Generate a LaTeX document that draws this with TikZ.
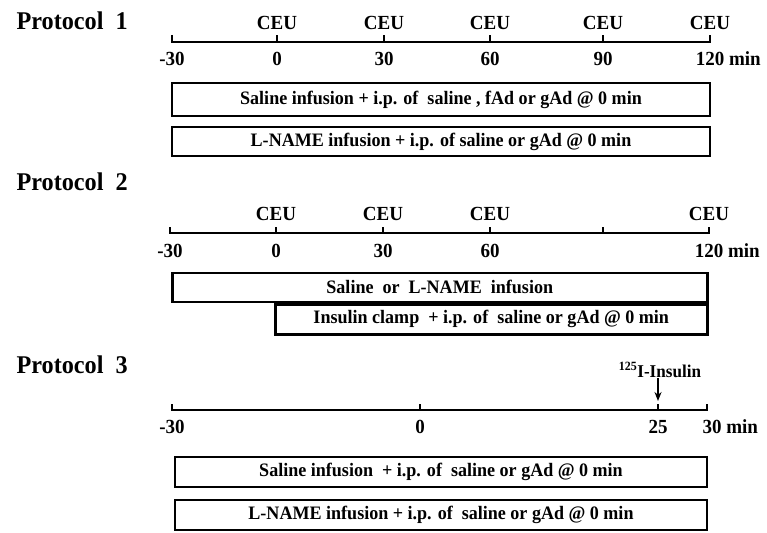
\documentclass[tikz,border=0pt]{standalone}
\usepackage{fontspec}
\setmainfont{Liberation Serif}
\newfontfamily\condfont[FakeStretch=0.95]{Liberation Serif}
\usetikzlibrary{arrows.meta,positioning}

\begin{document}
\begin{tikzpicture}[x=1pt,y=-1pt,
  axis/.style={line width=2pt,line join=miter},
  bar/.style={draw,line width=2.5pt,inner sep=0pt,font=\condfont\fontsize{19}{19}\selectfont\bfseries},
  lab/.style={anchor=base,font=\condfont\fontsize{20}{20}\selectfont\bfseries},
  ttl/.style={anchor=base west,font=\condfont\fontsize{25.5}{25.5}\selectfont\bfseries}]
\useasboundingbox (0,0) rectangle (767,532);
%% protocol 1
\node[ttl] (prA) at (13,30) {Protocol\ \ 1};
\draw[axis](172,35)--(172,42)--(710,42)--(710,35);
\foreach \x/\t [count=\i] in {172/-30,277/0,384/30,490/60,603/90}{
  \draw[axis](\x,42)--(\x,35);
  \node[lab] (tA\i) at (\x,66) {\t};}
\node[lab] (tA6) at (710,66) {120\rlap{ min}};
\foreach \x [count=\i] in {277,384,490,603,710}
  \node[lab] (ceuA\i) at (\x,30) {CEU};
\node[bar,minimum width=538,minimum height=33] (salA) at (441,99.5)
  {Saline infusion + i.p. of\ \ saline , fAd or gAd @ 0 min};
\node[bar,minimum width=538,minimum height=29] (lnA) at (441,141.5)
  {L-NAME infusion + i.p. of saline or gAd @ 0 min};
%% protocol 2
\node[ttl] (prB) at (13,190) {Protocol\ \ 2};
\draw[axis](170,227)--(170,233)--(709,233)--(709,227);
\foreach \x/\t [count=\i] in {170/-30,276/0,383/30,490/60}{
  \draw[axis](\x,233)--(\x,227);
  \node[lab] (tB\i) at (\x,257) {\t};}
\draw[axis](603,233)--(603,227);
\node[lab] (tB5) at (709,257) {120\rlap{ min}};
\foreach \x [count=\i] in {276,383,490,709}
  \node[lab] (ceuB\i) at (\x,220) {CEU};
\node[bar,minimum width=535,minimum height=29,anchor=south west] (salB) at (171,303)
  {Saline\ \ or\ \ L-NAME\ \ infusion};
\node[bar,minimum width=432,minimum height=30,anchor=north west] (insB) at (274,303)
  {Insulin clamp\ \ + i.p. of\ \ saline or gAd @ 0 min};
%% protocol 3
\node[ttl] (prC) at (13,373) {Protocol\ \ 3};
\draw[axis](172,404)--(172,410)--(707,410)--(707,404);
\foreach \x/\t [count=\i] in {172/-30,420/0,658/25}{
  \draw[axis](\x,410)--(\x,404);
  \node[lab] (tC\i) at (\x,433) {\t};}
\node[lab] (tC4) at (712,433) {30\rlap{ min}};
\node[anchor=base,inner sep=1pt,font=\condfont\fontsize{18}{18}\selectfont\bfseries] (ins) at (660,377)
  {\textsuperscript{125}I-Insulin};
\coordinate (tk25) at (658,401);
\draw[-{Stealth[length=9pt,width=7pt]},line width=2pt](ins.south -| tk25)--(tk25);
\node[bar,minimum width=532,minimum height=30] (salC) at (441,472)
  {Saline infusion\ \ + i.p. of\ \ saline or gAd @ 0 min};
\node[bar,minimum width=532,minimum height=30] (lnC) at (441,515)
  {L-NAME infusion + i.p. of\ \ saline or gAd @ 0 min};
\end{tikzpicture}
\end{document}
